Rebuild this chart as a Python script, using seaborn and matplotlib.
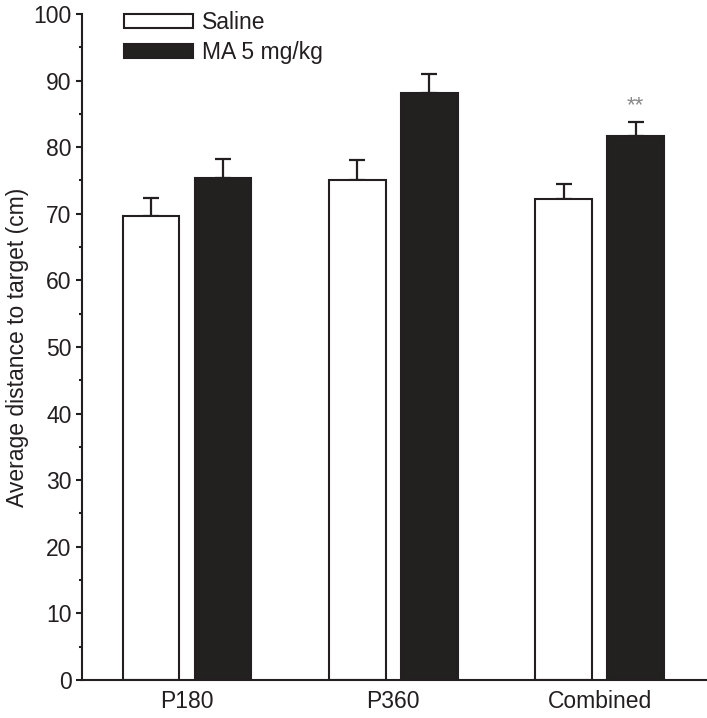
import numpy as np
import pandas as pd
import seaborn as sns
import matplotlib.pyplot as plt
from matplotlib.ticker import MultipleLocator

# values
groups = ['P180', 'P360', 'Combined']
treatments = ['Saline', 'MA 5 mg/kg']
saline_mean = [69.6, 75.1, 72.2]
saline_sem = [2.8, 3.0, 2.2]
ma_mean = [75.4, 88.1, 81.7]
ma_sem = [2.8, 2.9, 2.0]

df = pd.DataFrame({
    'group': groups * 2,
    'treatment': [treatments[0]] * 3 + [treatments[1]] * 3,
    'distance': saline_mean + ma_mean,
})
sems = [saline_sem, ma_sem]

ink = '#231f20'
sns.set_style('ticks')
plt.rcParams['font.family'] = ['Liberation Sans', 'DejaVu Sans']
plt.rcParams['text.color'] = ink
plt.rcParams['axes.labelcolor'] = ink
plt.rcParams['xtick.color'] = ink
plt.rcParams['ytick.color'] = ink

fig = plt.figure(figsize=(7.07, 7.18), dpi=100)
ax = fig.add_axes([0.116, 0.053, 0.884, 0.9276])

sns.barplot(data=df, x='group', y='distance', hue='treatment',
            palette=['white', ink], edgecolor=ink, linewidth=1.5,
            width=0.698, gap=0.215, errorbar=None, ax=ax)

# upward-only SEM bars
for cont, err in zip(ax.containers, sems):
    xs = [p.get_x() + p.get_width() / 2 for p in cont]
    ys = [p.get_height() for p in cont]
    ax.errorbar(xs, ys, yerr=[np.zeros(len(err)), err], fmt='none',
                ecolor=ink, elinewidth=1.6, capsize=6, capthick=1.6, zorder=0)

# significance marker over combined MA bar
p = ax.containers[1][2]
ax.text(p.get_x() + p.get_width() / 2, ma_mean[2] + ma_sem[2] + 1.0, '**',
        ha='center', va='bottom', fontsize=16, color='#888888')

ax.set_ylim(0, 100)
ax.set_xlim(-0.508, 2.52)
ax.yaxis.set_major_locator(MultipleLocator(10))
ax.yaxis.set_minor_locator(MultipleLocator(5))
ax.tick_params(axis='y', which='major', length=4.5, width=1.5, labelsize=16.5, pad=3)
ax.tick_params(axis='y', which='minor', length=2.5, width=1.5)
ax.tick_params(axis='x', length=0, labelsize=16.5, pad=7)
ax.set_xlabel('')
ax.set_ylabel('Average distance to target (cm)', fontsize=16.5, labelpad=3)
for s in ['left', 'bottom']:
    ax.spines[s].set_linewidth(1.5)
    ax.spines[s].set_color(ink)
sns.despine(ax=ax)

ax.legend(loc='upper left', bbox_to_anchor=(0.053, 1.018), frameon=False,
          fontsize=16.5, handlelength=3.0, handleheight=0.6,
          handletextpad=0.4, labelspacing=0.3, borderaxespad=0)

fig.savefig('out.png', dpi=100)
